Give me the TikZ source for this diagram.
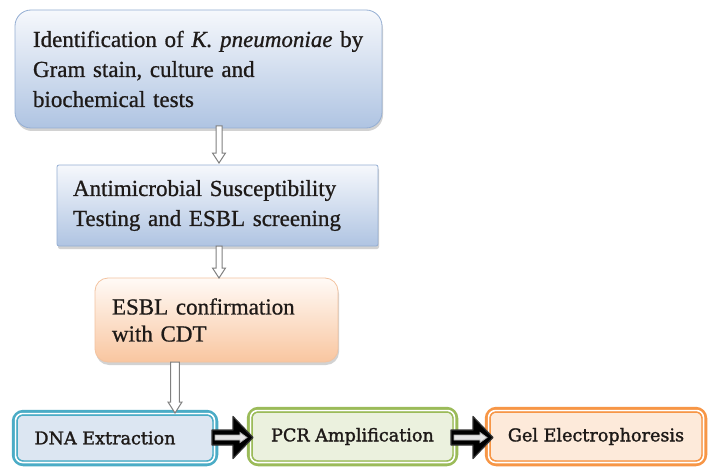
\documentclass[tikz,border=0pt]{standalone}
\usepackage{fontspec}
\setmainfont{Liberation Serif}
\newfontfamily\slabfont[FakeBold=1.6]{DejaVu Serif}
\usetikzlibrary{shadows,calc}
\definecolor{bluetop}{HTML}{F6F8FC}
\definecolor{bluebot}{HTML}{AFC4E2}
\definecolor{blueedge}{HTML}{94AED3}
\definecolor{orgtop}{HTML}{FFFAF6}
\definecolor{orgbot}{HTML}{F9C6A0}
\definecolor{orgedge}{HTML}{F3C3A0}
\definecolor{tealc}{HTML}{4BACC6}
\definecolor{tealfill}{HTML}{DCE6F2}
\definecolor{greenc}{HTML}{9BBB59}
\definecolor{greenfill}{HTML}{EBF1DE}
\definecolor{orangec}{HTML}{F79646}
\definecolor{orangefill}{HTML}{FDEADA}
\definecolor{txt}{HTML}{1E1A18}
\definecolor{arrowgray}{HTML}{808080}
\tikzset{
  topbox/.style={draw=#1, line width=0.8pt, inner ysep=0pt, align=left,
     font=\fontsize{23}{30}\selectfont\addfontfeatures{FakeBold=0.8}, text=txt,
     drop shadow={opacity=0.35, shadow xshift=1pt, shadow yshift=-3pt}},
  bluebox/.style={topbox=blueedge, top color=bluetop, bottom color=bluebot},
  orangebox/.style={topbox=orgedge, top color=orgtop, bottom color=orgbot},
  botbox/.style={draw=#1, line width=5.5pt, rounded corners=9pt, inner sep=0pt,
     font=\slabfont\fontsize{17.6}{20}\selectfont, text=txt},
  hollowarrow/.style={draw=arrowgray, fill=white, line width=1pt, line join=miter},
  blackarrow/.style={fill=black, draw=black!80, line width=1.2pt, line join=round},
  innerarrow/.style={fill=white!90!black, draw=gray!65, line width=0.8pt}
}
% vertical hollow arrow: start coord, tip coord, half shaft, half head, head length
\newcommand\vhollow[5]{%
  \draw[hollowarrow] ($(#1)+(-#3,0)$) -- ($(#2)+(-#3,-#5)$) -- ($(#2)+(-#4,-#5)$)
    -- (#2) -- ($(#2)+(#4,-#5)$) -- ($(#2)+(#3,-#5)$) -- ($(#1)+(#3,0)$) -- cycle;}
% horizontal black block arrow with inner light arrow: start, tip
\newcommand\hblock[2]{%
  \draw[blackarrow] ($(#1)+(0,-7.5)$) -- ($(#2)+(-20,-7.5)$) -- ($(#2)+(-20,-21)$)
    -- (#2) -- ($(#2)+(-20,21)$) -- ($(#2)+(-20,7.5)$) -- ($(#1)+(0,7.5)$) -- cycle;
  \draw[innerarrow] ($(#1)+(3,-2.5)$) -- ($(#2)+(-13,-2.5)$) -- ($(#2)+(-13,-5)$)
    -- ($(#2)+(-6,0)$) -- ($(#2)+(-13,5)$) -- ($(#2)+(-13,2.5)$) -- ($(#1)+(3,2.5)$) -- cycle;}
\begin{document}
\begin{tikzpicture}[x=1pt,y=-1pt]
\useasboundingbox[fill=white] (0,0) rectangle (709,468);

% top boxes
\node[bluebox, rounded corners=16pt, minimum width=367pt, minimum height=118pt,
      text width=331pt] (b1) at (198.5,69)
  {Identification of \textit{K. pneumoniae} by\\Gram stain, culture and\\biochemical tests};
\node[bluebox, rounded corners=2pt, minimum width=321pt, minimum height=81pt,
      text width=289pt] (b2) at (217.5,205.5)
  {Antimicrobial Susceptibility\\Testing and ESBL screening};
\node[orangebox, rounded corners=13pt, minimum width=243pt, minimum height=84pt,
      text width=209pt, font=\fontsize{23}{27}\selectfont\addfontfeatures{FakeBold=0.8}] (b3) at (216.5,320)
  {ESBL confirmation\\with CDT};

% bottom boxes
\node[botbox=tealc, fill=tealfill, minimum width=201pt, minimum height=51pt] (b4) at (115,438)
  {\hspace*{-20pt}DNA Extraction};
\node[botbox=greenc, fill=greenfill, minimum width=206pt, minimum height=54pt] (b5) at (352.5,436.5)
  {PCR Amplification};
\node[botbox=orangec, fill=orangefill, minimum width=217pt, minimum height=54pt] (b6) at (596,436.5)
  {Gel Electrophoresis};

% inner double borders
\foreach \n/\c in {b4/tealc, b5/greenc, b6/orangec}{
  \draw[white, line width=1.6pt, rounded corners=7pt]
    ($(\n.north west)+(3.8,3.8)$) rectangle ($(\n.south east)+(-3.8,-3.8)$);
  \draw[\c, line width=1.2pt, rounded corners=6pt]
    ($(\n.north west)+(5.4,5.4)$) rectangle ($(\n.south east)+(-5.4,-5.4)$);
}

% vertical hollow arrows
\coordinate (a1s) at (219,126);
\coordinate (a1e) at (219,163);
\vhollow{a1s}{a1e}{3}{6.5}{10}
\coordinate (a2s) at (219,246);
\coordinate (a2e) at (219,278);
\vhollow{a2s}{a2e}{3}{6.5}{10}
\coordinate (a3s) at (175,362);
\coordinate (a3e) at (175,413);
\vhollow{a3s}{a3e}{4.3}{7}{11}

% horizontal black arrows
\coordinate (h1s) at (212,437.5);
\coordinate (h1e) at (253,437.5);
\hblock{h1s}{h1e}
\coordinate (h2s) at (451,437.5);
\coordinate (h2e) at (493,437.5);
\hblock{h2s}{h2e}
\end{tikzpicture}
\end{document}
